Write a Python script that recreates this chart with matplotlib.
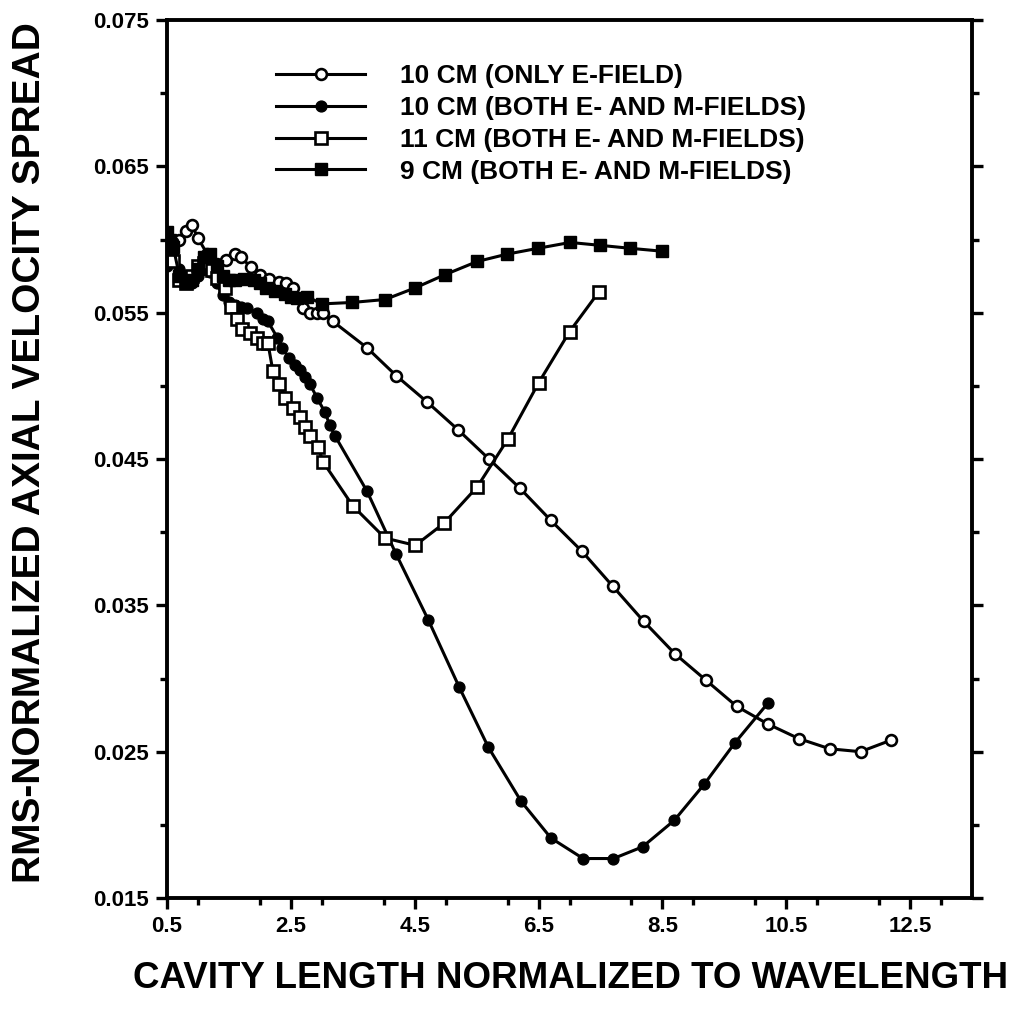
import numpy as np
import matplotlib
matplotlib.use("Agg")
import matplotlib.pyplot as plt
from matplotlib.ticker import MultipleLocator

plt.rcParams['font.family'] = ['Liberation Sans', 'DejaVu Sans']

# 10 cm, only E-field (open circles)
x_e10 = [0.5, 0.6, 0.7, 0.8, 0.9, 1.0, 1.15, 1.3, 1.45, 1.6, 1.7, 1.85, 2.0, 2.15,
         2.3, 2.42, 2.54, 2.7, 2.81, 2.92, 3.02, 3.18, 3.73, 4.2, 4.7, 5.2, 5.7,
         6.2, 6.7, 7.2, 7.7, 8.2, 8.7, 9.2, 9.7, 10.2, 10.7, 11.2, 11.7, 12.2]
y_e10 = [0.0595, 0.0588, 0.0600, 0.0606, 0.0610, 0.0601, 0.0590, 0.0583, 0.0586,
         0.0590, 0.0588, 0.0581, 0.0576, 0.0573, 0.0571, 0.0570, 0.0567, 0.0553,
         0.0550, 0.0550, 0.0550, 0.0544, 0.0526, 0.0507, 0.0489, 0.0470, 0.0450,
         0.0430, 0.0408, 0.0387, 0.0363, 0.0339, 0.0317, 0.0299, 0.0281, 0.0269,
         0.0259, 0.0252, 0.0250, 0.0258]

# 10 cm, both E- and M-fields (filled circles)
x_em10 = [0.5, 0.55, 0.6, 0.7, 0.8, 0.9, 1.0, 1.1, 1.2, 1.3, 1.4, 1.5, 1.6, 1.7,
          1.79, 1.95, 2.05, 2.13, 2.28, 2.36, 2.47, 2.57, 2.65, 2.73, 2.81, 2.92,
          3.05, 3.13, 3.21, 3.73, 4.2, 4.72, 5.22, 5.69, 6.22, 6.7, 7.22, 7.71,
          8.18, 8.69, 9.18, 9.67, 10.2]
y_em10 = [0.0582, 0.0590, 0.0598, 0.0580, 0.0572, 0.0570, 0.0575, 0.0580, 0.0578,
          0.0570, 0.0562, 0.0557, 0.0555, 0.0554, 0.0553, 0.0550, 0.0546, 0.0544,
          0.0533, 0.0526, 0.0519, 0.0514, 0.0511, 0.0506, 0.0501, 0.0492, 0.0482,
          0.0473, 0.0466, 0.0428, 0.0385, 0.0340, 0.0294, 0.0253, 0.0216, 0.0191,
          0.0177, 0.0177, 0.0185, 0.0203, 0.0228, 0.0256, 0.0283]

# 11 cm, both E- and M-fields (open squares)
x_em11 = [0.5, 0.6, 0.7, 0.8, 0.9, 1.0, 1.1, 1.23, 1.31, 1.44, 1.53, 1.63, 1.71,
          1.84, 1.95, 2.05, 2.13, 2.21, 2.31, 2.41, 2.54, 2.65, 2.73, 2.81, 2.94,
          3.02, 3.5, 4.02, 4.51, 4.97, 5.51, 6.01, 6.5, 7.0, 7.47]
y_em11 = [0.0598, 0.0585, 0.0572, 0.0570, 0.0575, 0.0582, 0.0584, 0.0579, 0.0574,
          0.0567, 0.0554, 0.0546, 0.0539, 0.0536, 0.0533, 0.0529, 0.0529, 0.0510,
          0.0501, 0.0492, 0.0485, 0.0479, 0.0472, 0.0466, 0.0458, 0.0448, 0.0418,
          0.0396, 0.0391, 0.0406, 0.0431, 0.0464, 0.0502, 0.0537, 0.0564]

# 9 cm, both E- and M-fields (filled squares)
x_em9 = [0.5, 0.55, 0.6, 0.7, 0.8, 0.9, 1.0, 1.1, 1.2, 1.3, 1.4, 1.5, 1.6, 1.75,
         1.9, 2.0, 2.1, 2.25, 2.4, 2.5, 2.6, 2.76, 3.0, 3.49, 4.02, 4.51, 4.99,
         5.51, 5.99, 6.49, 7.01, 7.5, 7.98, 8.5]
y_em9 = [0.0605, 0.0600, 0.0595, 0.0575, 0.0570, 0.0572, 0.0580, 0.0588, 0.0590,
         0.0582, 0.0575, 0.0572, 0.0572, 0.0573, 0.0572, 0.0570, 0.0567, 0.0565,
         0.0563, 0.0561, 0.0560, 0.0561, 0.0556, 0.0557, 0.0559, 0.0567, 0.0576,
         0.0585, 0.0590, 0.0594, 0.0598, 0.0596, 0.0594, 0.0592]

labels = ["10 CM (ONLY E-FIELD)",
          "10 CM (BOTH E- AND M-FIELDS)",
          "11 CM (BOTH E- AND M-FIELDS)",
          "9 CM (BOTH E- AND M-FIELDS)"]

xtick_vals = [0.5, 2.5, 4.5, 6.5, 8.5, 10.5, 12.5]
ytick_vals = [0.015, 0.025, 0.035, 0.045, 0.055, 0.065, 0.075]

fig = plt.figure(figsize=(10.28, 10.16), dpi=100)
ax = fig.add_axes([0.1625, 0.1161, 0.7830, 0.8642])

lw = 2.2
ms_c = 7.8
ms_s = 8.5
ax.plot(x_e10, y_e10, '-o', color='black', lw=lw, ms=ms_c, mfc='white',
        mec='black', mew=1.9, label=labels[0])
ax.plot(x_em10, y_em10, '-o', color='black', lw=lw, ms=ms_c, mfc='black',
        mec='black', label=labels[1])
ax.plot(x_em11, y_em11, '-s', color='black', lw=lw, ms=ms_s, mfc='white',
        mec='black', mew=1.9, label=labels[2])
ax.plot(x_em9, y_em9, '-s', color='black', lw=lw, ms=ms_s, mfc='black',
        mec='black', label=labels[3])

ax.set_xlim(0.5, 13.5)
ax.set_ylim(0.015, 0.075)
ax.set_xticks(xtick_vals)
ax.set_xticklabels([str(v) for v in xtick_vals])
ax.xaxis.set_minor_locator(MultipleLocator(1.0))
ax.set_yticks(ytick_vals)
ax.set_yticklabels(["%.3f" % v for v in ytick_vals])
ax.yaxis.set_minor_locator(MultipleLocator(0.005))

ax.tick_params(which='both', direction='out', width=2.4, labelsize=16,
               right=True, top=False, pad=5)
ax.tick_params(which='major', length=8)
ax.tick_params(which='minor', length=5)
for lab in ax.get_xticklabels() + ax.get_yticklabels():
    lab.set_fontweight('bold')
for sp in ax.spines.values():
    sp.set_linewidth(2.8)

fig.text(0.555, 0.037, "CAVITY LENGTH NORMALIZED TO WAVELENGTH", fontsize=26.5,
         fontweight='bold', ha='center', va='center')
fig.text(30 / 1028, 1 - 453 / 1016, "RMS-NORMALIZED AXIAL VELOCITY SPREAD",
         fontsize=28, fontweight='bold', rotation=90, ha='center', va='center')

ax.legend(loc='upper left', bbox_to_anchor=(0.135, 0.95), frameon=False,
          numpoints=1, handlelength=3.4, handletextpad=1.3, labelspacing=0.3,
          borderpad=0, borderaxespad=0,
          prop={'weight': 'bold', 'size': 19})

fig.savefig("out.png", dpi=100)
